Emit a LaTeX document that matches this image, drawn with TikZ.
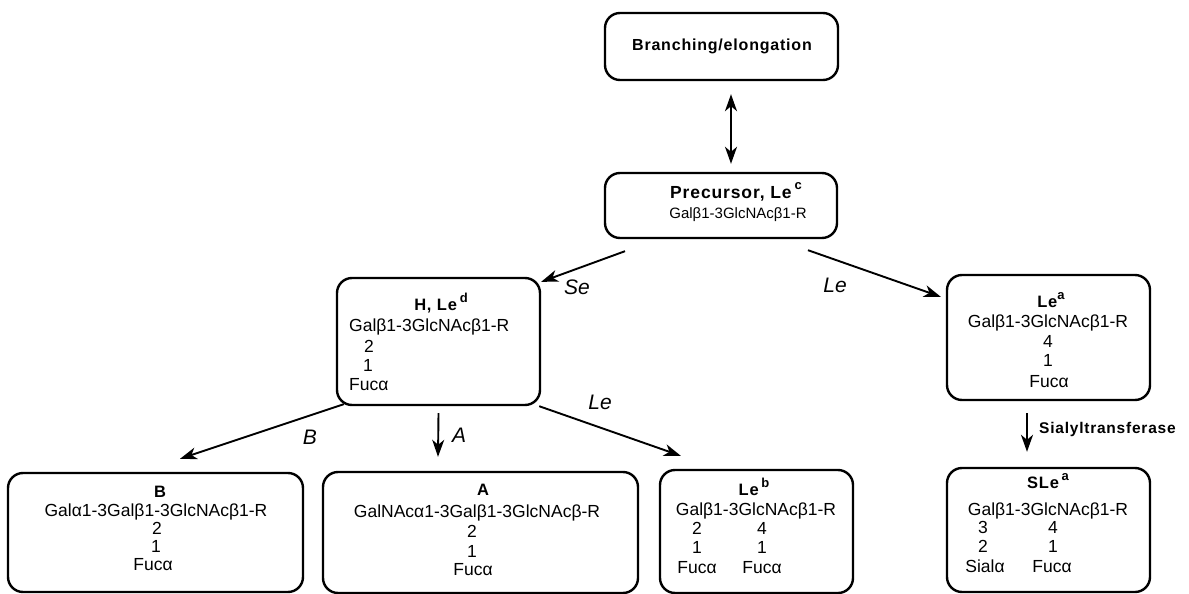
\documentclass[tikz,border=0pt]{standalone}
\usepackage{fontspec}
\setmainfont{Liberation Sans}
\newfontfamily\ttlfont[LetterSpace=5]{Liberation Sans}
\usetikzlibrary{arrows.meta}
\newcommand\supx[1]{\raisebox{0.5em}{\fontsize{13}{13}\selectfont #1}}
\tikzset{
  box/.style={draw, line width=2.4pt, rounded corners=15pt, inner sep=0pt},
  tip/.tip={Stealth[length=17pt,width=12pt,inset=5pt]},
  arr/.style={line width=1.9pt, -tip},
  darr/.style={line width=1.9pt, tip-tip},
  ttl/.style={inner sep=0pt, anchor=base, font=\ttlfont\bfseries\fontsize{16.5}{16.5}\selectfont},
  bigttl/.style={inner sep=0pt, anchor=base, font=\ttlfont\bfseries\fontsize{16}{16}\selectfont},
  chain/.style={inner sep=0pt, anchor=base, font=\fontsize{17.5}{17.5}\selectfont},
  smallchain/.style={inner sep=0pt, anchor=base, font=\fontsize{15}{15}\selectfont},
  lab/.style={inner sep=0pt, anchor=center, font=\itshape\fontsize{21}{21}\selectfont}
}
\begin{document}
\begin{tikzpicture}[x=1pt,y=-1pt]
\useasboundingbox (0,0) rectangle (1189,594);

% boxes
\node[box, minimum width=233pt, minimum height=67pt] (branch) at (721.5,46.5) {};
\node[box, minimum width=232pt, minimum height=65pt] (prec) at (721,205.5) {};
\node[box, minimum width=203pt, minimum height=127pt] (hbox) at (438.5,341.5) {};
\node[box, minimum width=203pt, minimum height=125pt] (leabox) at (1048.5,337.5) {};
\node[box, minimum width=295pt, minimum height=119pt] (bbox) at (155.5,532.5) {};
\node[box, minimum width=315pt, minimum height=121pt] (abox) at (480.5,532.5) {};
\node[box, minimum width=193pt, minimum height=123pt] (lebbox) at (756.5,531.5) {};
\node[box, minimum width=203pt, minimum height=124pt] (sleabox) at (1048.5,530) {};

% branching
\node[bigttl] (br0) at (722,51) {Branching/elongation};

% precursor
\node[ttl, font=\ttlfont\bfseries\fontsize{17.5}{17.5}\selectfont] (pr0) at (736,198) {Precursor, Le\,\supx{c}};
\node[smallchain] (pr1) at (738,218.5) {Galβ1-3GlcNAcβ1-R};

% H, Le d
\node[ttl] (h0) at (441,310.5) {H, Le\,\supx{d}};
\node[chain, anchor=base west] (h1) at (349,331.5) {Galβ1-3GlcNAcβ1-R};
\node[chain] (h2) at (369,352) {2};
\node[chain] (h3) at (368,371) {1};
\node[chain, anchor=base west] (h4) at (349,390.5) {Fucα};

% Le a
\node[ttl] (la0) at (1051,307.5) {Le\supx{a}};
\node[chain] (la1) at (1048,327.5) {Galβ1-3GlcNAcβ1-R};
\node[chain] (la2) at (1048,347.5) {4};
\node[chain] (la3) at (1048,366.5) {1};
\node[chain] (la4) at (1049,387.5) {Fucα};

% B
\node[ttl] (b0) at (160,497.5) {B};
\node[chain] (b1) at (156,516.5) {Galα1-3Galβ1-3GlcNAcβ1-R};
\node[chain] (b2) at (157,534) {2};
\node[chain] (b3) at (156,552.5) {1};
\node[chain] (b4) at (153,570) {Fucα};

% A
\node[ttl] (a0) at (483,495.5) {A};
\node[chain] (a1) at (477,517.5) {GalNAcα1-3Galβ1-3GlcNAcβ-R};
\node[chain] (a2) at (472,537.5) {2};
\node[chain] (a3) at (472,557) {1};
\node[chain] (a4) at (473,575.5) {Fucα};

% Le b
\node[ttl] (lb0) at (754,495.5) {Le\,\supx{b}};
\node[chain] (lb1) at (756,515.5) {Galβ1-3GlcNAcβ1-R};
\node[chain] (lb2) at (697,534.5) {2};
\node[chain] (lb3) at (762,534.5) {4};
\node[chain] (lb4) at (697,553.5) {1};
\node[chain] (lb5) at (762,553.5) {1};
\node[chain] (lb6) at (697,573.5) {Fucα};
\node[chain] (lb7) at (762,573.5) {Fucα};

% SLe a
\node[ttl] (s0) at (1048,488.5) {SLe\,\supx{a}};
\node[chain] (s1) at (1048,515.5) {Galβ1-3GlcNAcβ1-R};
\node[chain] (s2) at (983,533.5) {3};
\node[chain] (s3) at (1053,533.5) {4};
\node[chain] (s4) at (983,552.5) {2};
\node[chain] (s5) at (1053,552.5) {1};
\node[chain] (s6) at (985,572.5) {Sialα};
\node[chain] (s7) at (1052,572.5) {Fucα};

% connectors
\draw[darr] ([xshift=9.5pt,yshift=-13pt]branch.south) -- ([xshift=10pt,yshift=8pt]prec.north);
\draw[arr] ([xshift=-96pt,yshift=-12pt]prec.south) -- ([yshift=-5pt]hbox.north east);
\draw[arr] ([xshift=87pt,yshift=-11pt]prec.south) -- ([xshift=-5pt,yshift=-23pt]leabox.north west);
\draw[arr] ([xshift=8pt,yshift=2pt]hbox.south west) -- ([xshift=24.5pt,yshift=13pt]bbox.north);
\draw[arr] ([yshift=-7pt]hbox.south) -- ([xshift=-42.5pt,yshift=14pt]abox.north);
\draw[arr] ([xshift=-2pt]hbox.south east) -- ([xshift=22pt,yshift=13pt]lebbox.north west);
\draw[arr] ([xshift=-21.5pt,yshift=-12pt]leabox.south) -- ([xshift=-21.5pt,yshift=15pt]sleabox.north);

% connector labels
\node[lab] (lse) at (577,287) {Se};
\node[lab] (lle1) at (835,285) {Le};
\node[lab] (lb) at (310,437) {B};
\node[lab] (la) at (459,435) {A};
\node[lab] (lle2) at (600,402) {Le};
\node[inner sep=0pt, anchor=base west, font=\ttlfont\bfseries\fontsize{15.5}{15.5}\selectfont] (lsial) at (1039,433.5) {Sialyltransferase};
\end{tikzpicture}
\end{document}
